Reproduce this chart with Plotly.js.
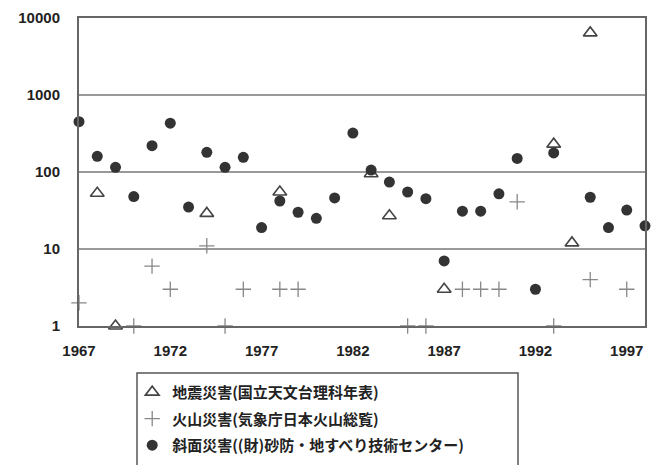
<!DOCTYPE html>
<html>
<head>
<meta charset="utf-8">
<script src="https://cdn.plot.ly/plotly-3.0.1.min.js"></script>
<style>html,body{margin:0;padding:0;background:#fff;}#chart{width:655px;height:465px;}</style>
</head>
<body>
<div id="chart"></div>
<script>
// Earthquake disasters (triangle)
const quakeYears = [1968, 1969, 1974, 1978, 1983, 1984, 1987, 1993, 1994, 1995];
const quakeValues = [53, 1, 29, 55, 95, 27, 3, 230, 12, 6400];
// Volcanic disasters (plus)
const volcYears = [1967, 1970, 1971, 1972, 1974, 1975, 1976, 1978, 1979, 1985, 1986, 1988, 1989, 1990, 1991, 1993, 1995, 1997];
const volcValues = [2, 1, 6, 3, 11, 1, 3, 3, 3, 1, 1, 3, 3, 3, 41, 1, 4, 3];
// Slope disasters (filled circle)
const slopeYears = [1967, 1968, 1969, 1970, 1971, 1972, 1973, 1974, 1975, 1976, 1977, 1978, 1979, 1980, 1981, 1982, 1983, 1984, 1985, 1986, 1987, 1988, 1989, 1990, 1991, 1992, 1993, 1995, 1996, 1997, 1998];
const slopeValues = [450, 160, 115, 48, 220, 430, 35, 180, 115, 155, 19, 42, 30, 25, 46, 320, 106, 74, 55, 45, 7, 31, 31, 52, 150, 3, 177, 47, 19, 32, 20];

const seriesNames = [
  '地震災害(国立天文台理科年表)',
  '火山災害(気象庁日本火山総覧)',
  '斜面災害((財)砂防・地すべり技術センター)'
];
const xTickVals = [1967, 1972, 1977, 1982, 1987, 1992, 1997];
const yTickVals = [1, 10, 100, 1000, 10000];
const yTickText = ['1', '10', '100', '1000', '10000'];

const traces = [
  {
    x: quakeYears, y: quakeValues, name: seriesNames[0], type: 'scatter', mode: 'markers',
    legendgroup: 'a', cliponaxis: false,
    marker: {symbol: 'triangle-up-open', size: 12, color: '#444', line: {width: 1.6, color: '#444'}}
  },
  {
    x: volcYears, y: volcValues, name: seriesNames[1], type: 'scatter', mode: 'markers',
    legendgroup: 'b', cliponaxis: false,
    marker: {symbol: 'cross-thin-open', size: 11, color: '#888', line: {width: 1.3, color: '#888'}}
  },
  {
    x: slopeYears, y: slopeValues, name: seriesNames[2], type: 'scatter', mode: 'markers',
    legendgroup: 'c', cliponaxis: false,
    marker: {symbol: 'circle', size: 11, color: '#333'}
  }
];

const layout = {
  width: 655, height: 465,
  margin: {l: 79, r: 10, t: 18, b: 139, autoexpand: false},
  paper_bgcolor: '#fff', plot_bgcolor: '#fff',
  font: {family: 'Liberation Sans, Arial, sans-serif', color: '#222'},
  showlegend: true,
  legend: {
    x: 0.094, y: -0.162, xanchor: 'left', yanchor: 'top',
    bgcolor: 'rgba(0,0,0,0)', borderwidth: 0,
    tracegroupgap: 4, itemwidth: 30,
    font: {family: 'Noto Sans CJK JP, sans-serif', size: 15, color: '#222', weight: 700}
  },
  xaxis: {
    range: [1967, 1998], tickvals: xTickVals, ticks: '', showgrid: false, zeroline: false,
    showline: true, mirror: true, linecolor: '#666', linewidth: 2,
    ticklabelstandoff: 10,
    tickfont: {family: 'Liberation Sans, Arial, sans-serif', size: 15, color: '#222', weight: 700}
  },
  yaxis: {
    type: 'log', range: [0, 4], tickvals: yTickVals, ticktext: yTickText, ticks: '',
    showgrid: true, gridcolor: '#999', gridwidth: 1.5, zeroline: false,
    showline: true, mirror: true, linecolor: '#666', linewidth: 2,
    ticklabelstandoff: 14,
    tickfont: {family: 'Liberation Sans, Arial, sans-serif', size: 15, color: '#222', weight: 700}
  },
  shapes: [{
    type: 'rect', xref: 'paper', yref: 'paper',
    x0: (137 - 79) / 566, x1: (518 - 79) / 566,
    y0: (326 - 470) / 308, y1: (326 - 373) / 308,
    line: {color: '#555', width: 1.5}, fillcolor: 'rgba(0,0,0,0)'
  }]
};

Plotly.newPlot('chart', traces, layout, {displayModeBar: false, staticPlot: true});
</script>
</body>
</html>
